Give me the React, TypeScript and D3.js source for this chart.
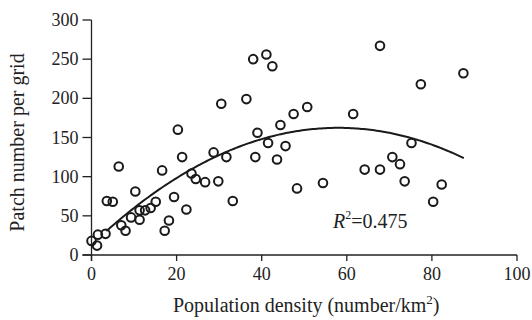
import React from "react";
import * as d3 from "d3";

const densityX: number[] = [
  0, 1.3, 1.5, 3.3, 3.6, 5, 6.4, 7, 8, 9.3, 10.3, 11.3, 11.3, 12.6, 13.9, 15.1,
  16.6, 17.2, 18.2, 19.4, 20.3, 21.3, 22.3, 23.5, 24.5, 26.7, 28.7, 29.8, 30.5,
  31.7, 33.2, 36.4, 38, 38.5, 39, 41.1, 41.5, 42.5, 43.6, 44.4, 45.6, 47.5, 48.3,
  50.7, 54.4, 61.5, 64.2, 67.8, 67.8, 70.7, 72.5, 73.6, 75.2, 77.4, 80.3, 82.3,
  87.4,
];
const patchY: number[] = [
  18, 12, 26, 27, 69, 68, 113, 38, 31, 48, 81, 45, 57, 57, 60, 68,
  108, 31, 44, 74, 160, 125, 58, 104, 97, 93, 131, 94, 193,
  125, 69, 199, 250, 125, 156, 256, 143, 241, 122, 166, 139, 180, 85,
  189, 92, 180, 109, 109, 267, 125, 116, 94, 143, 218, 68, 90,
  232,
];
const xTicks: number[] = [0, 20, 40, 60, 80, 100];
const yTicks: number[] = [0, 50, 100, 150, 200, 250, 300];
// quadratic fit y = a + b x + c x^2
const fitA = 13;
const fitB = 5.15;
const fitC = -0.0444;
const fitStart = 3.5;
const fitEnd = 87.5;
const xTitle = "Population density (number/km";
const yTitle = "Patch number per grid";
const r2Text = "0.475";

const W = 532;
const H = 320;
const FONT = "'Liberation Serif', 'Times New Roman', serif";

export default function App() {
  const x = d3.scaleLinear().domain([0, 100]).range([91.5, 517]);
  const y = d3.scaleLinear().domain([0, 300]).range([255, 20]);
  const fitPts: [number, number][] = d3
    .range(fitStart, fitEnd + 0.001, 0.5)
    .map((v) => [v, fitA + fitB * v + fitC * v * v]);
  const line = d3
    .line<[number, number]>()
    .x((d) => x(d[0]))
    .y((d) => y(d[1]))
    .curve(d3.curveLinear);
  const pts = densityX.map((v, i) => ({ x: v, y: patchY[i] }));
  const x0 = x(0);
  const y0 = y(0);
  return (
    <svg
      width={W}
      height={H}
      style={{ position: "absolute", left: 0, top: 0, background: "#fff" }}
      fontFamily={FONT}
    >
      <rect width={W} height={H} fill="#fff" />
      {/* y axis */}
      <line x1={x0} x2={x0} y1={y(300)} y2={y0 + 6} stroke="#222" strokeWidth={1.3} />
      {yTicks.map((t) => (
        <g key={"yt" + t}>
          <line x1={x0 - 9} x2={x0} y1={y(t)} y2={y(t)} stroke="#222" strokeWidth={1.3} />
          <text x={x0 - 13} y={y(t)} dy="0.34em" textAnchor="end" fontSize={18} fill="#222">
            {t}
          </text>
        </g>
      ))}
      {/* x axis */}
      <line x1={x0 - 9} x2={x(100)} y1={y0} y2={y0} stroke="#222" strokeWidth={1.3} />
      {xTicks.map((t) => (
        <g key={"xt" + t}>
          <line x1={x(t)} x2={x(t)} y1={y0} y2={y0 + 6} stroke="#222" strokeWidth={1.3} />
          <text x={x(t)} y={y0 + 25} textAnchor="middle" fontSize={18} fill="#222">
            {t}
          </text>
        </g>
      ))}
      {/* titles */}
      <text x={(x(0) + x(100)) / 2 + 2} y={312} textAnchor="middle" fontSize={20} fill="#222">
        {xTitle}
        <tspan fontSize={13} dy={-8}>2</tspan>
        <tspan dy={8}>)</tspan>
      </text>
      <text
        transform={`translate(24, ${(y(0) + y(300)) / 2 + 5}) rotate(-90)`}
        textAnchor="middle"
        fontSize={20}
        fill="#222"
      >
        {yTitle}
      </text>
      {/* fit line */}
      <path d={line(fitPts) || ""} fill="none" stroke="#1a1a1a" strokeWidth={2} />
      {/* points */}
      {pts.map((p, i) => (
        <circle
          key={i}
          cx={x(p.x)}
          cy={y(p.y)}
          r={4.3}
          fill="#fff"
          fillOpacity={0}
          stroke="#1a1a1a"
          strokeWidth={2}
        />
      ))}
      {/* R2 label */}
      <text x={333} y={228} fontSize={20} fill="#222">
        <tspan fontStyle="italic">R</tspan>
        <tspan fontSize={12} dy={-9}>2</tspan>
        <tspan dy={9}>{"=" + r2Text}</tspan>
      </text>
    </svg>
  );
}
